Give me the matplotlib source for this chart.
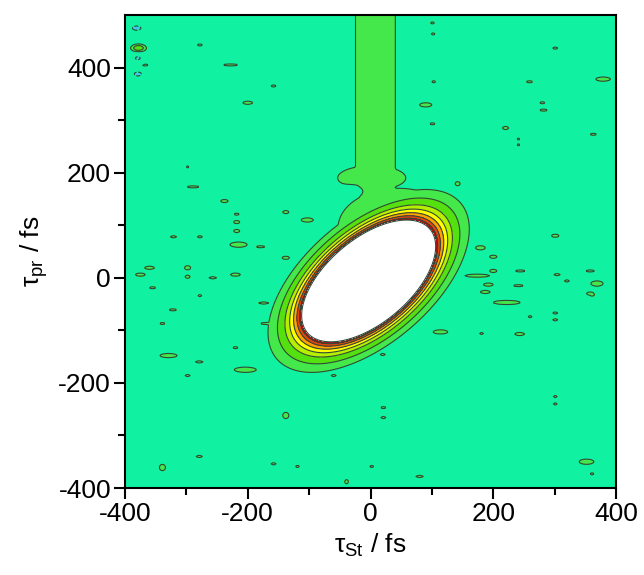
import numpy as np
import matplotlib
matplotlib.use("Agg")
import matplotlib.pyplot as plt

plt.rcParams['font.family'] = ['Liberation Sans', 'DejaVu Sans']
plt.rcParams['mathtext.fontset'] = 'custom'
plt.rcParams['mathtext.rm'] = 'Liberation Sans'
plt.rcParams['mathtext.it'] = 'Liberation Sans'
plt.rcParams['mathtext.default'] = 'regular'
plt.rcParams['axes.unicode_minus'] = False

# ---- axis ranges / ticks ----
x_range = [-400, 400]
y_range = [-400, 500]
x_ticks = [-400, -200, 0, 200, 400]
y_ticks = [-400, -200, 0, 200, 400]

# ---- contour levels and colours ----
levels = [-5.0, -1.0, 1.05, 1.57, 2.10, 2.49, 2.85, 3.18, 3.46, 3.68, 20.0]
band_colors = ['#3fc8f0', '#10f2a2', '#45e84a', '#55e010', '#b5f000',
               '#ffff00', '#ffa200', '#e8440a', '#b01010', '#ffffff']

# ---- main tilted peak ----
peak_center = [-3.0, -6.0]
peak_axes = [141.0, 74.0]
peak_angle_deg = 48.0
peak_amp = 10.0

# ---- flat shoulder towards upper right ----
shoulder_center = [45.0, 95.0]
shoulder_sigma = [130.0, 100.0]
shoulder_amp = 1.85

# ---- neck joining shoulder and stripe ----
neck_center = [2.0, 190.0]
neck_sigma = [120.0, 50.0]
neck_amp = 1.3

# ---- vertical stripe ----
stripe_x = 8.0
stripe_halfwidth = 42.0
stripe_y0 = 130.0
stripe_amp = 1.3

# ---- holes inside the stripe ----
hole_x = [-28]
hole_y = [165]
hole_w = [10]
hole_h = [6]

# ---- isolated weak specks (just above the first level): position, half extent x / y ----
speck_x = [-278, -228, -158, -200, -298, -289, -238, -218, -218, -218, -321, -278, -215, -179,
           -138, -103, -138, -360, -375, -298, -298, -257, -220, -355, -278,
           101, 102, 301, 103, 259, 379, 90, 280, 282, 101, 220, 363, 241, 241, 142, 2, 62,
           301, 179, 200, 244, 304, 320, 358, 369, 200, 192, 241, 358, 174,
           -322, -339, -174, -171, -329, -279, -220, -298, -204, -60, -138, -279, -339,
           -158, -119, -39, 2, -28,
           369, 361, 222, 187, 260, 301, 301, 114, 181, 243, 20, 21, 21, 301, 301, 352, 361, 80,
           -370]
speck_y = [443, 405, 365, 333, 211, 173, 146, 121, 106, 89, 78, 78, 63, 59,
           125, 110, 38, 19, 6, 19, 2, 0, 6, -19, -34,
           485, 464, 437, 373, 373, 378, 329, 333, 319, 293, 285, 273, 264, 253, 179, 179, 164,
           80, 57, 40, 13, 6, -6, 13, -11, 13, -13, -15, -30, 4,
           -61, -87, -48, -87, -148, -160, -133, -186, -175, -186, -262, -340, -361,
           -354, -359, -388, -359, -144,
           -13, -32, -47, -27, -74, -67, -80, -103, -106, -107, -146, -247, -266, -226, -240, -350, -373, -378,
           405]
speck_w = [4, 12, 4, 8, 2, 10, 6, 4, 5, 5, 5, 4, 14, 7,
           5, 10, 6, 8, 8, 5, 4, 6, 8, 5, 3,
           3, 3, 4, 3, 5, 12, 10, 4, 6, 4, 5, 5, 2, 2, 4, 4, 6,
           6, 8, 6, 8, 5, 4, 7, 10, 6, 8, 8, 6, 20,
           6, 4, 8, 8, 14, 6, 4, 4, 18, 4, 5, 5, 5,
           4, 3, 3, 3, 22,
           6, 4, 22, 8, 3, 4, 4, 12, 3, 8, 4, 4, 4, 3, 3, 12, 3, 6,
           8]
speck_h = [2, 2, 2, 3, 2, 2, 3, 2, 3, 3, 2, 2, 5, 2,
           3, 4, 3, 3, 3, 4, 3, 2, 3, 2, 2,
           2, 2, 2, 2, 2, 4, 4, 2, 2, 2, 3, 2, 2, 2, 4, 4, 3,
           3, 4, 3, 2, 2, 2, 2, 5, 3, 3, 2, 3, 3,
           2, 2, 2, 2, 4, 2, 2, 2, 5, 2, 6, 2, 6,
           2, 2, 4, 2, 4,
           2, 3, 4, 3, 2, 2, 2, 4, 2, 3, 2, 2, 2, 2, 2, 5, 2, 2,
           3]
speck_amp = 1.2

# ---- strong green spot at top left ----
spot_x = [-378]
spot_y = [437]
spot_w = [13]
spot_h = [8]
spot_amp = 2.0

# ---- negative (cyan) specks at top left ----
neg_x = [-381, -379, -379]
neg_y = [475, 417, 388]
neg_w = [7, 5, 6]
neg_h = [4, 5, 4]
neg_amp = -1.3

# ---- build field ----
xg = np.linspace(x_range[0], x_range[1], 401)
yg = np.linspace(y_range[0], y_range[1], 451)
X, Y = np.meshgrid(xg, yg)

th = np.deg2rad(peak_angle_deg)
dx, dy = X - peak_center[0], Y - peak_center[1]
u = dx * np.cos(th) + dy * np.sin(th)
v = -dx * np.sin(th) + dy * np.cos(th)
core = peak_amp * np.exp(-(u / peak_axes[0]) ** 2 - (v / peak_axes[1]) ** 2)

shoulder = shoulder_amp * np.exp(-((X - shoulder_center[0]) / shoulder_sigma[0]) ** 2
                                 - ((Y - shoulder_center[1]) / shoulder_sigma[1]) ** 2)
neck = neck_amp * np.exp(-((X - neck_center[0]) / neck_sigma[0]) ** 2
                         - ((Y - neck_center[1]) / neck_sigma[1]) ** 2)

stripe = stripe_amp / (1 + np.exp(-(Y - stripe_y0) / 10.0)) * \
    np.exp(-np.abs((X - stripe_x) / stripe_halfwidth) ** 6)
stripe = np.maximum(stripe, neck)
for hx, hy, hw, hh in zip(hole_x, hole_y, hole_w, hole_h):
    stripe *= 1 - 0.4 * np.exp(-((X - hx) / (hw * 1.6)) ** 2 - ((Y - hy) / (hh * 1.6)) ** 2)

Z = np.maximum(np.maximum(core, shoulder), stripe)
L1 = levels[2]


def blob(cx, cy, w, h, amp, thr):
    k = np.sqrt(np.log(abs(amp) / thr))
    return amp * np.exp(-((X - cx) * k / w) ** 2 - ((Y - cy) * k / h) ** 2)


for sx, sy, sw, sh in zip(speck_x, speck_y, speck_w, speck_h):
    Z = np.maximum(Z, blob(sx, sy, sw, sh, speck_amp, L1))
for sx, sy, sw, sh in zip(spot_x, spot_y, spot_w, spot_h):
    Z = np.maximum(Z, blob(sx, sy, sw, sh, spot_amp, L1))
for sx, sy, sw, sh in zip(neg_x, neg_y, neg_w, neg_h):
    Z = Z + blob(sx, sy, sw, sh, neg_amp, 1.0)

# ---- draw ----
fig = plt.figure(figsize=(6.44, 5.75), dpi=100)
ax = fig.add_axes([125 / 644, 1 - 488 / 575, 491 / 644, 473 / 575])

ax.contourf(X, Y, Z, levels=levels, colors=band_colors)
ax.contour(X, Y, Z, levels=levels[1:-1], colors='#2d4a3a', linewidths=0.8)

ax.set_xlim(x_range)
ax.set_ylim(y_range)
ax.set_xticks(x_ticks)
ax.set_yticks(y_ticks)
ax.set_xticks(np.arange(-300, 400, 200), minor=True)
ax.set_yticks(np.arange(-300, 500, 200), minor=True)
ax.tick_params(which='major', direction='out', length=8, width=1.5, labelsize=19,
               top=False, right=False, pad=2)
ax.tick_params(which='minor', direction='out', length=5, width=1.5, top=False, right=False)
for s in ax.spines.values():
    s.set_linewidth(1.5)

ax.set_xlabel(r'$\tau_{St}$ / fs', fontsize=19, labelpad=4)
ax.set_ylabel(r'$\tau_{pr}$ / fs', fontsize=19, labelpad=6)

fig.savefig('out.png', dpi=100)
